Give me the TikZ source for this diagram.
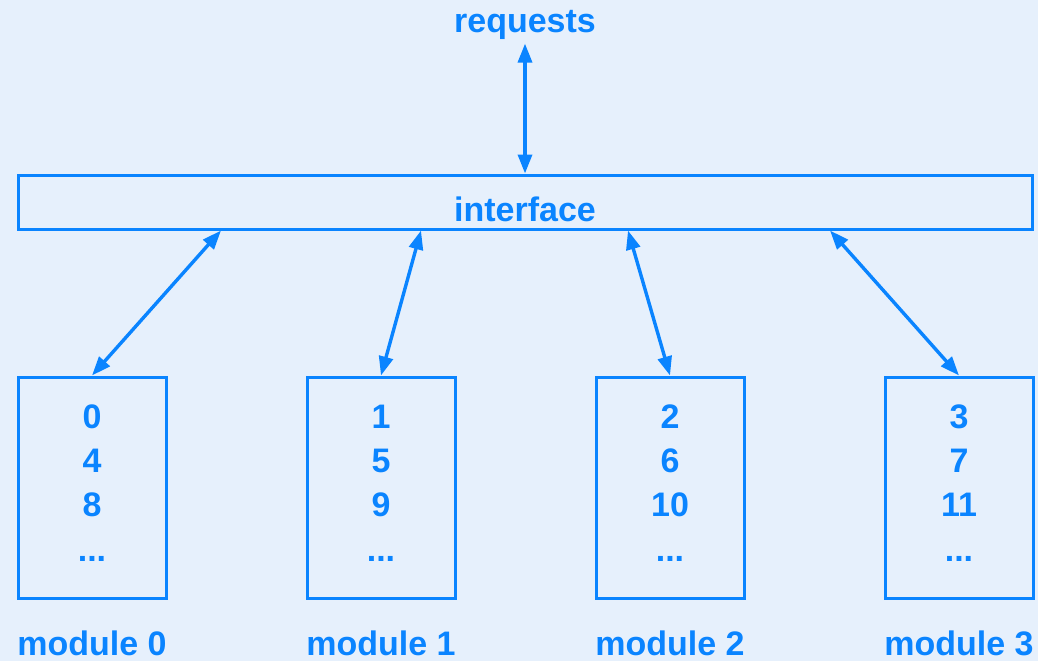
\documentclass[tikz,border=0pt]{standalone}
\usepackage{fontspec}
\setmainfont{Liberation Sans}
\usetikzlibrary{arrows.meta, positioning, calc}
\definecolor{diagblue}{RGB}{10,132,255}
\definecolor{diagback}{RGB}{230,240,252}
\tikzset{
    every node/.style={text=diagblue, font=\fontsize{34}{40}\selectfont\bfseries},
    ifacebox/.style={
        draw=diagblue, line width=3pt, inner sep=0pt,
        minimum width=1014pt, minimum height=54pt
    },
    modbox/.style={
        draw=diagblue, line width=3pt, inner sep=0pt,
        minimum width=148pt, minimum height=221pt
    },
    link/.style={
        draw=diagblue, line width=3.4pt,
        {Triangle[length=19pt,width=14pt]}-{Triangle[length=19pt,width=14pt]}
    },
}

\begin{document}
\begin{tikzpicture}[x=1pt, y=-1pt]
    \fill[diagback] (0,0) rectangle (1038,661);
    \useasboundingbox (0,0) rectangle (1038,661);

    % top
    \node[anchor=base] (req) at (525,33) {requests};
    \node[ifacebox] (iface) at (525,202) {};
    \node[anchor=base] (ifacetext) at (525,221) {interface};
    \draw[link] (req.south) -- (iface.north);

    % memory modules
    \foreach \i/\dx in {0/-304, 1/-104, 2/103, 3/305} {
        \pgfmathsetmacro{\mx}{92+289*\i}
        \node[modbox] (mod\i) at (\mx,487.5) {};
        \coordinate (port\i) at ([xshift=\dx pt]iface.south);
        \draw[link] (port\i) -- (mod\i.north);
        \foreach \r in {0,1,2} {
            \pgfmathtruncatemacro{\val}{\i+4*\r}
            \node[anchor=base] (num\i\r) at (\mx,428+44.3*\r) {\val};
        }
        \node[anchor=base] (dots\i) at (\mx,561) {...};
        \node[anchor=base] (lab\i) at (\mx,655) {module \i};
    }
\end{tikzpicture}
\end{document}
